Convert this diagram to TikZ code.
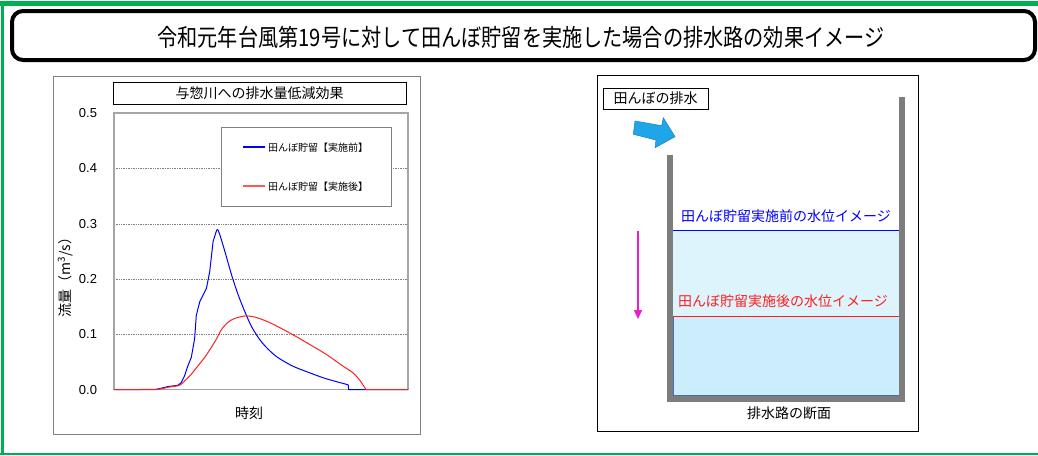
\documentclass[tikz,border=0pt]{standalone}
\usepackage{fontspec}
\setmainfont{Noto Sans CJK JP}
\newfontfamily\latinfont{Liberation Sans}
\usepackage{tikz}
\usetikzlibrary{positioning}
\usetikzlibrary{arrows.meta}
\definecolor{framegreen}{RGB}{0,176,80}
\definecolor{flowblue}{RGB}{30,166,232}
\definecolor{flowedge}{RGB}{30,120,190}
\definecolor{wallgray}{RGB}{125,125,125}
\definecolor{waterhigh}{RGB}{222,244,252}
\definecolor{waterlow}{RGB}{204,238,252}
\definecolor{waterframe}{RGB}{70,110,190}
\definecolor{curveblue}{RGB}{0,0,255}
\definecolor{curvered}{RGB}{255,30,30}
\definecolor{levelpink}{RGB}{235,30,200}
\newcommand{\titlesize}{\fontsize{24}{26}\selectfont}
\newcommand{\labelsize}{\fontsize{14}{16}\selectfont}
\newcommand{\ticksize}{\latinfont\fontsize{13}{15}\selectfont}
\newcommand{\legendsize}{\fontsize{10}{12}\selectfont}
\tikzstyle{textbox}=[draw, line width=0.9pt, inner sep=0, outer sep=0]
\tikzstyle{plaintext}=[inner sep=1pt, outer sep=0, text depth=0pt]
\tikzstyle{ticklabel}=[plaintext, anchor=east, font=\ticksize]
\tikzstyle{gridline}=[densely dotted, gray, line width=0.7pt]
\tikzstyle{curve}=[line width=1pt, line join=round]
\tikzstyle{bluecurve}=[curve, draw=curveblue]
\tikzstyle{redcurve}=[curve, draw=curvered]

\begin{document}
\begin{tikzpicture}[x=1pt, y=-1pt]
        \useasboundingbox (0, 0) rectangle (1038, 455);
        % green frame of the page
        \fill[framegreen] (0, 1) rectangle (1038, 6);
        \fill[framegreen] (1, 1) rectangle (4, 455);
        \fill[framegreen] (0, 453) rectangle (1038, 455);
        % title
        \draw[line width=4pt, rounded corners=11pt] (12, 11) rectangle (1035, 60);
        \node[plaintext, font=\titlesize] (title) at (521, 36) {\scalebox{0.84}[1]{令和元年台風第19号に対して田んぼ貯留を実施した場合の排水路の効果イメージ}};

        % left panel: chart
        \draw[draw=gray, line width=1pt] (53, 76) rectangle (420, 434);
        \node[textbox, minimum width=293pt, minimum height=22pt, font=\labelsize] (charttitle) at (259.5, 93) {与惣川への排水量低減効果};
        \draw[gridline] (114, 168) -- (408, 168);
        \draw[gridline] (114, 224) -- (408, 224);
        \draw[gridline] (114, 279) -- (408, 279);
        \draw[gridline] (114, 334) -- (408, 334);
        \draw[draw=gray!70, line width=1.3pt] (114, 113) rectangle (408, 389.5);
        \node[ticklabel] (t5) at (98, 113) {0.5};
        \node[ticklabel] (t4) at (98, 168) {0.4};
        \node[ticklabel] (t3) at (98, 224) {0.3};
        \node[ticklabel] (t2) at (98, 279) {0.2};
        \node[ticklabel] (t1) at (98, 334) {0.1};
        \node[ticklabel] (t0) at (98, 389.5) {0.0};
        \node[plaintext, rotate=90, font=\labelsize] (ylabel) at (64, 274) {流量（m\textsuperscript{3}/s）};
        \node[plaintext, font=\labelsize] (xlabel) at (249, 413) {時刻};
        % legend
        \node[textbox, draw=gray, fill=white, minimum width=170pt, minimum height=79pt] (legend) at (306, 166.5) {};
        \node[plaintext, anchor=west, font=\legendsize] (legbefore) at (267, 147) {田んぼ貯留【実施前】};
        \node[plaintext, anchor=west, font=\legendsize] (legafter) at (267, 186) {田んぼ貯留【実施後】};
        \draw[bluecurve, line width=1.2pt] (legbefore.west) ++(-2, 0) -- +(-22, 0);
        \draw[redcurve, line width=1.2pt, draw=curvered!75] (legafter.west) ++(-2, 0) -- +(-22, 0);
        % curves
        \draw[bluecurve] (114, 389.5) -- (156, 389.5)
            -- (167.7, 386.6) -- (177.8, 385.3) -- (181.2, 382.6) -- (184.5, 375.9)
            -- (187.9, 365.8) -- (191.3, 357.4) -- (194.6, 338.9) -- (196.3, 315.4)
            -- (199.7, 301.9) -- (203, 295.2) -- (206.4, 288.5) -- (209.7, 271.7)
            -- (213.1, 241.4) -- (216.5, 230.7) -- (217.5, 229.3);
        \draw[bluecurve] plot[smooth, tension=0.5] coordinates {(217.5, 229.3) (219.8, 234.7)
            (224.9, 251.5) (231.6, 275) (238.3, 295.2) (245, 312) (251.8, 327.1)
            (261.8, 342.3) (275.3, 355.7) (292.1, 365.8) (308.9, 372.5) (325.7, 378.6) (348.2, 384.8)}
            -- (348.6, 389.5) -- (408, 389.5);
        \draw[redcurve] plot[smooth, tension=0.5] coordinates {(114, 389.5) (156, 389.3)
            (167.7, 387.3) (179.5, 385.3) (184.5, 380.9) (191.3, 374.2) (198, 365.8)
            (204.7, 357.4) (211.4, 347.3) (216.5, 338.9) (221.5, 329.5) (228.2, 322.1)
            (234.9, 318.4) (245, 316) (255.1, 317.1) (268.6, 322.1) (282, 328.8)
            (295.5, 336.2) (308.9, 344) (325.7, 354) (342.5, 365.8) (352.6, 372.5)
            (359.3, 379.6) (366, 389.5)} -- (408, 389.5);

        % right panel: cross section of the drain
        \draw[line width=1pt] (597, 75) rectangle (918, 431);
        \node[textbox, minimum width=105pt, minimum height=21pt, font=\labelsize] (drainage) at (655.5, 98.5) {田んぼの排水};
        \filldraw[fill=flowblue, draw=flowedge, line width=0.5pt, line join=round] (635, 121) -- (661.7, 125.7) -- (663.3, 117.7)
            -- (675, 136.7) -- (655, 147.7) -- (656, 140) -- (633.3, 134.3) -- cycle;
        \fill[waterhigh] (673, 230) rectangle (899, 316);
        \filldraw[fill=waterlow, draw=waterframe, line width=0.6pt] (673, 316) rectangle (899, 395.5);
        \draw[wallgray, line width=6pt] (670, 155) -- (670, 399) -- (902, 399) -- (902, 97);
        \draw[curveblue, line width=1pt] (673, 230) -- (899, 230);
        \draw[curvered, line width=1pt] (673, 316) -- (899, 316);
        \node[plaintext, text=curveblue, font=\labelsize] (levelbefore) at (786, 216) {田んぼ貯留実施前の水位イメージ};
        \node[plaintext, text=curvered, font=\labelsize] (levelafter) at (783, 301) {田んぼ貯留実施後の水位イメージ};
        \coordinate (droptop) at (638, 231);
        \coordinate (dropend) at (638, 319);
        \draw[levelpink, line width=1.5pt, -{Triangle[length=9pt, width=8pt]}] (droptop) -- (dropend);
        \node[plaintext, font=\labelsize] (section) at (789, 413) {排水路の断面};
    \end{tikzpicture}
\end{document}
